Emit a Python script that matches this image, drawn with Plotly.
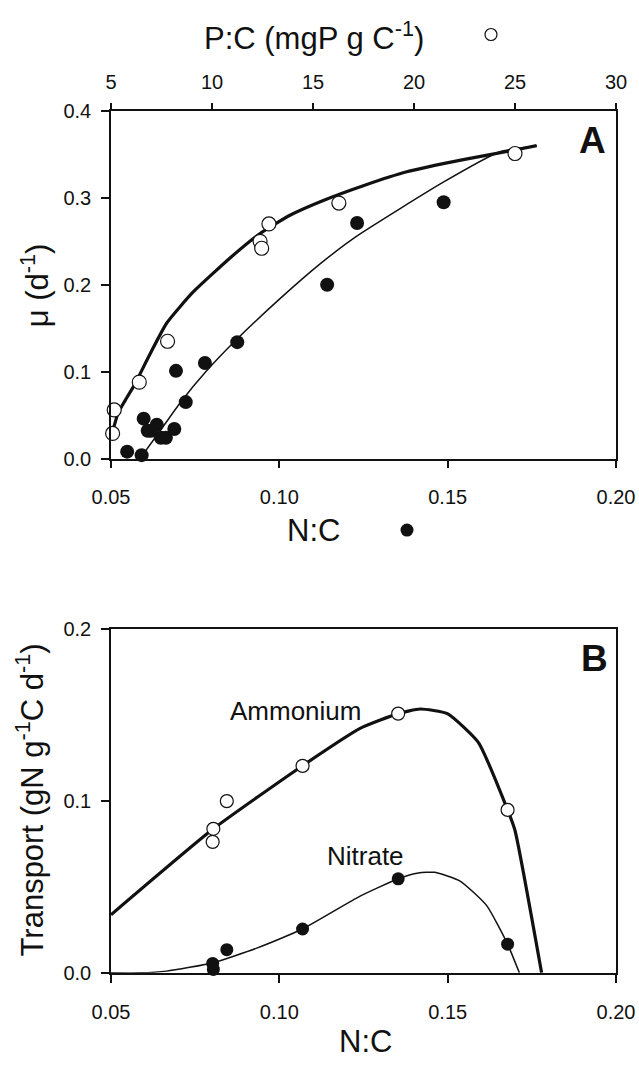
import plotly.graph_objects as go

# ---------------- Panel A data ----------------
# open circles: P:C (mgP gC-1) vs mu (top axis)
pc_obs = [5.08, 5.16, 6.40, 7.80, 12.38, 12.46, 12.82, 16.28, 25.0]
mu_pc_obs = [0.029, 0.056, 0.088, 0.135, 0.250, 0.242, 0.270, 0.294, 0.351]
# filled circles: N:C vs mu (bottom axis)
nc_obs = [0.0548, 0.0591, 0.0597, 0.0609, 0.0619, 0.0636, 0.0648, 0.0663, 0.0688,
          0.0693, 0.0722, 0.0779, 0.0875, 0.1142, 0.1231, 0.1488]
mu_nc_obs = [0.008, 0.004, 0.046, 0.032, 0.032, 0.039, 0.024, 0.024, 0.034,
             0.101, 0.065, 0.110, 0.134, 0.200, 0.271, 0.295]
# thick model curve (P:C)
pc_fit = [5.03, 5.36, 5.78, 6.19, 6.77, 7.76, 9.08, 10.95, 12.38, 13.86, 15.51,
          17.49, 19.64, 22.44, 25.0, 26.07]
mu_pc_fit = [0.027, 0.053, 0.070, 0.086, 0.113, 0.156, 0.192, 0.232, 0.259, 0.280,
             0.297, 0.314, 0.330, 0.344, 0.355, 0.360]
# thin model curve (N:C)
nc_fit = [0.0586, 0.0646, 0.0705, 0.0784, 0.0873, 0.1002, 0.1121, 0.1230, 0.1487,
          0.1655, 0.1765]
mu_nc_fit = [0.0, 0.032, 0.064, 0.101, 0.137, 0.184, 0.224, 0.256, 0.318, 0.353, 0.360]

# ---------------- Panel B data ----------------
amm_nc = [0.0802, 0.0804, 0.0844, 0.1069, 0.1353, 0.1678]
amm_val = [0.0762, 0.0838, 0.0999, 0.1204, 0.1508, 0.0948]
nit_nc = [0.0802, 0.0804, 0.0844, 0.1069, 0.1353, 0.1678]
nit_val = [0.0055, 0.0020, 0.0135, 0.0255, 0.0547, 0.0167]
amm_fit_nc = [0.05, 0.0804, 0.1069, 0.124, 0.1353, 0.1418, 0.1499, 0.1591, 0.1678,
              0.170, 0.1779]
amm_fit_val = [0.0338, 0.0838, 0.1205, 0.1422, 0.1508, 0.1535, 0.1508, 0.1341, 0.0948,
               0.0828, 0.0]
nit_fit_nc = [0.05, 0.0586, 0.0665, 0.0804, 0.0933, 0.1069, 0.124, 0.1353, 0.1413,
              0.1462, 0.1537, 0.1616, 0.1678, 0.1713]
nit_fit_val = [0.0, 0.0, 0.001, 0.0059, 0.0144, 0.0255, 0.0446, 0.0547, 0.0581,
               0.0585, 0.0534, 0.0391, 0.0167, 0.0]

x_ticks = [0.05, 0.10, 0.15, 0.20]
top_ticks = [5, 10, 15, 20, 25, 30]
yA_ticks = [0.0, 0.1, 0.2, 0.3, 0.4]
yB_ticks = [0.0, 0.1, 0.2]

# ---------------- layout geometry ----------------
W, H = 639, 1072
L, R = 111, 616
A_top, A_bot = 102, 457
B_top, B_bot = 631, 982
FONT = "Liberation Sans, Arial, Helvetica, sans-serif"
BLACK = "#111111"


def px(X):
    return (X - L) / (R - L)


def py(Y):
    return 1 - Y / H


fig = go.Figure()

thick = dict(color=BLACK, width=3.2, shape="spline", smoothing=0.5)
thin = dict(color=BLACK, width=1.5, shape="spline", smoothing=0.5)

# Panel A
fig.add_trace(go.Scatter(x=pc_fit, y=mu_pc_fit, mode="lines", xaxis="x2", yaxis="y",
                         line=thick, cliponaxis=False))
fig.add_trace(go.Scatter(x=nc_fit, y=mu_nc_fit, mode="lines", xaxis="x", yaxis="y",
                         line=thin, cliponaxis=False))
fig.add_trace(go.Scatter(x=pc_obs, y=mu_pc_obs, mode="markers", xaxis="x2", yaxis="y",
                         marker=dict(symbol="circle", size=14, color="white",
                                     line=dict(color=BLACK, width=1.2)), cliponaxis=False))
fig.add_trace(go.Scatter(x=nc_obs, y=mu_nc_obs, mode="markers", xaxis="x", yaxis="y",
                         marker=dict(symbol="circle", size=14, color=BLACK,
                                     line=dict(color=BLACK, width=0)), cliponaxis=False))

# Panel B
fig.add_trace(go.Scatter(x=amm_fit_nc, y=amm_fit_val, mode="lines", xaxis="x3", yaxis="y3",
                         line=thick, cliponaxis=False))
fig.add_trace(go.Scatter(x=nit_fit_nc, y=nit_fit_val, mode="lines", xaxis="x3", yaxis="y3",
                         line=thin, cliponaxis=False))
fig.add_trace(go.Scatter(x=amm_nc, y=amm_val, mode="markers", xaxis="x3", yaxis="y3",
                         marker=dict(symbol="circle", size=13, color="white",
                                     line=dict(color=BLACK, width=1.2)), cliponaxis=False))
fig.add_trace(go.Scatter(x=nit_nc, y=nit_val, mode="markers", xaxis="x3", yaxis="y3",
                         marker=dict(symbol="circle", size=13, color=BLACK,
                                     line=dict(color=BLACK, width=0)), cliponaxis=False))

tickfont = dict(family=FONT, size=20, color=BLACK)
axis_common = dict(showgrid=False, zeroline=False, showline=True, linecolor=BLACK,
                   linewidth=1.5, ticks="outside", ticklen=8, tickwidth=1.5,
                   tickcolor=BLACK, tickfont=tickfont)

yA_dom = [py(A_bot), py(A_top)]
yB_dom = [py(B_bot), py(B_top)]

fig.update_layout(
    width=W, height=H,
    margin=dict(l=L, r=W - R, t=0, b=0),
    paper_bgcolor="white", plot_bgcolor="white",
    showlegend=False,
    xaxis=dict(axis_common, domain=[0, 1], anchor="y", range=[0.05, 0.20],
               tickvals=x_ticks, ticktext=[f"{v:.2f}" for v in x_ticks],
               mirror=True, ticklabelstandoff=12),
    xaxis2=dict(axis_common, overlaying="x", anchor="y", side="top", range=[5, 30],
                tickvals=top_ticks, ticktext=[str(v) for v in top_ticks],
                ticklen=6, ticklabelstandoff=6),
    yaxis=dict(axis_common, domain=yA_dom, anchor="x", range=[0, 0.4],
               tickvals=yA_ticks, ticktext=[f"{v:.1f}" for v in yA_ticks],
               mirror=True, ticklabelstandoff=6),
    xaxis3=dict(axis_common, domain=[0, 1], anchor="y3", range=[0.05, 0.20],
                tickvals=x_ticks, ticktext=[f"{v:.2f}" for v in x_ticks],
                mirror=True, ticklabelstandoff=12),
    yaxis3=dict(axis_common, domain=yB_dom, anchor="x3", range=[0, 0.2],
                tickvals=yB_ticks, ticktext=[f"{v:.1f}" for v in yB_ticks],
                mirror=True, ticklabelstandoff=6),
)


def ann(text, X, Y, size, bold=False, angle=0, xanchor="center"):
    fig.add_annotation(
        text=f"<b>{text}</b>" if bold else text,
        x=px(X), y=py(Y), xref="paper", yref="paper",
        xanchor=xanchor, yanchor="middle", showarrow=False, textangle=angle,
        font=dict(family=FONT, size=size, color=BLACK))


ann("P:C (mgP g C<sup>-1</sup>)", 314, 26, 31)
ann("N:C", 313, 530, 31)
ann("μ (d<sup>-1</sup>)", 35, 280, 31, angle=-90)
ann("A", 592, 132, 37, bold=True)
ann("B", 594, 661, 37, bold=True)
ann("Ammonium", 228, 715, 26, xanchor="left")
ann("Nitrate", 325, 863, 26, xanchor="left")
ann("Transport (gN g<sup>-1</sup>C d<sup>-1</sup>)", 30, 806, 31, angle=-90)
ann("N:C", 365, 1052, 31)

# legend-like symbols next to axis titles
fig.add_shape(type="circle", xref="paper", yref="paper", xsizemode="pixel",
              ysizemode="pixel", xanchor=px(491), yanchor=py(24),
              x0=-6, x1=6, y0=-6, y1=6, line=dict(color=BLACK, width=1.2),
              fillcolor="white")
fig.add_shape(type="circle", xref="paper", yref="paper", xsizemode="pixel",
              ysizemode="pixel", xanchor=px(407), yanchor=py(530),
              x0=-6.5, x1=6.5, y0=-6.5, y1=6.5, line=dict(color=BLACK, width=0),
              fillcolor=BLACK)

fig.write_html(
    "out.html",
    config={"displayModeBar": False},
    post_script="document.body.style.margin='0';"
                "document.body.style.overflow='hidden';",
)
